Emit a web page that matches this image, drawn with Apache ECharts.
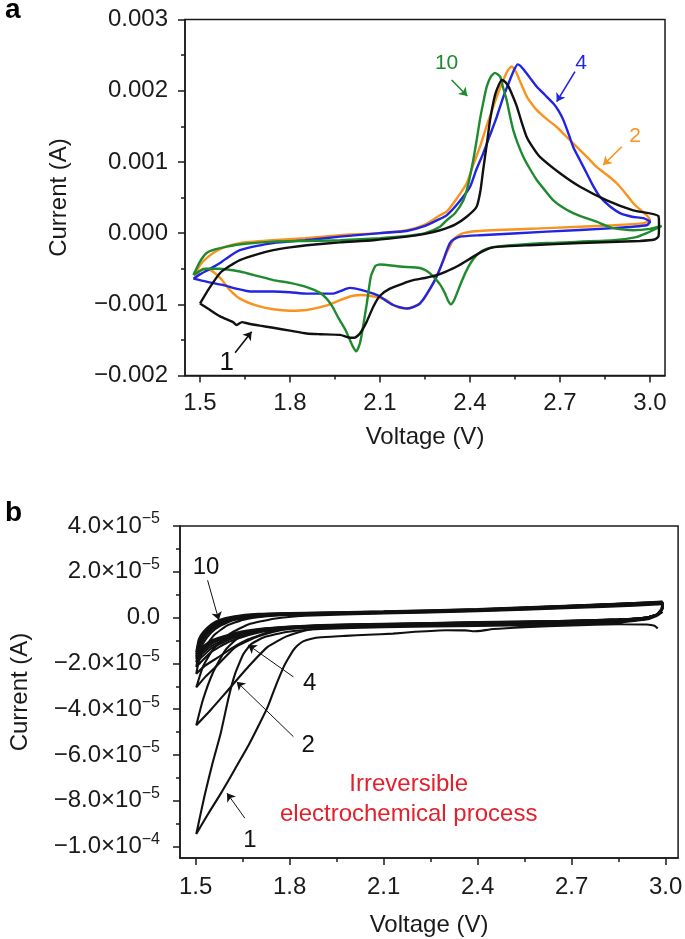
<!DOCTYPE html>
<html>
<head>
<meta charset="utf-8">
<script src="https://cdn.jsdelivr.net/npm/echarts@6/dist/echarts.min.js"></script>
<style>
  html, body { margin: 0; padding: 0; background: #fff; }
  #chart { width: 685px; height: 939px; }
</style>
</head>
<body>
<div id="chart"></div>
<script>
// ---- panel a: CV cycles 1, 2, 4, 10 (V, A) ----
var a1 = [
  [1.5,-0.99e-3],[1.53,-0.78e-3],[1.567,-0.56e-3],[1.6,-0.46e-3],[1.633,-0.38e-3],[1.69,-0.3e-3],[1.744,-0.24e-3],[1.8,-0.2e-3],[1.856,-0.17e-3],[1.967,-0.13e-3],[2.078,-0.1e-3],[2.189,-0.05e-3],[2.25,-0.01e-3],[2.3,0.04e-3],[2.35,0.12e-3],[2.389,0.23e-3],[2.422,0.37e-3],[2.435,0.6e-3],[2.444,0.89e-3],[2.456,1.25e-3],[2.467,1.59e-3],[2.48,1.88e-3],[2.489,2.01e-3],[2.506,2.15e-3],[2.518,2.12e-3],[2.528,2.06e-3],[2.542,1.93e-3],[2.556,1.78e-3],[2.572,1.56e-3],[2.589,1.35e-3],[2.61,1.2e-3],[2.633,1.07e-3],[2.7,0.84e-3],[2.767,0.65e-3],[2.856,0.46e-3],[2.944,0.32e-3],[3.028,0.24e-3],
  [3.03,0.1e-3],[3.028,-0.05e-3],[3.015,-0.09e-3],[2.967,-0.11e-3],[2.767,-0.14e-3],[2.6,-0.17e-3],[2.5,-0.19e-3],[2.467,-0.21e-3],[2.44,-0.26e-3],[2.411,-0.33e-3],[2.356,-0.47e-3],[2.32,-0.54e-3],[2.289,-0.59e-3],[2.25,-0.63e-3],[2.211,-0.66e-3],[2.189,-0.69e-3],[2.133,-0.78e-3],[2.1,-0.88e-3],[2.078,-1.03e-3],[2.055,-1.25e-3],[2.033,-1.41e-3],[2.015,-1.47e-3],[2.0,-1.47e-3],[1.967,-1.43e-3],[1.9,-1.42e-3],[1.856,-1.41e-3],[1.8,-1.37e-3],[1.744,-1.33e-3],[1.7,-1.3e-3],[1.66,-1.27e-3],[1.64,-1.25e-3],[1.622,-1.29e-3],[1.61,-1.25e-3],[1.567,-1.17e-3],[1.53,-1.07e-3],[1.5,-0.99e-3]
];
var a2 = [
  [1.483,-0.59e-3],[1.5,-0.45e-3],[1.52,-0.36e-3],[1.544,-0.28e-3],[1.58,-0.2e-3],[1.633,-0.14e-3],[1.744,-0.1e-3],[1.85,-0.07e-3],[1.967,-0.03e-3],[2.1,0.0],[2.189,0.04e-3],[2.25,0.12e-3],[2.3,0.25e-3],[2.322,0.3e-3],[2.35,0.45e-3],[2.389,0.7e-3],[2.41,0.95e-3],[2.433,1.21e-3],[2.455,1.5e-3],[2.478,1.78e-3],[2.495,1.98e-3],[2.511,2.15e-3],[2.525,2.28e-3],[2.539,2.34e-3],[2.548,2.3e-3],[2.556,2.24e-3],[2.57,2.1e-3],[2.589,1.92e-3],[2.605,1.82e-3],[2.622,1.73e-3],[2.656,1.6e-3],[2.689,1.49e-3],[2.72,1.36e-3],[2.756,1.21e-3],[2.79,1.07e-3],[2.822,0.93e-3],[2.856,0.82e-3],[2.889,0.7e-3],[2.92,0.55e-3],[2.944,0.42e-3],[2.97,0.32e-3],[2.989,0.25e-3],[3.0,0.18e-3],
  [2.98,0.14e-3],[2.878,0.11e-3],[2.656,0.07e-3],[2.433,0.03e-3],[2.378,0.0],[2.355,-0.05e-3],[2.344,-0.1e-3],[2.322,-0.28e-3],[2.305,-0.45e-3],[2.289,-0.61e-3],[2.265,-0.8e-3],[2.244,-0.94e-3],[2.215,-1.03e-3],[2.189,-1.06e-3],[2.165,-1.05e-3],[2.144,-1.01e-3],[2.122,-0.94e-3],[2.1,-0.91e-3],[2.078,-0.89e-3],[2.04,-0.87e-3],[2.011,-0.88e-3],[1.967,-0.94e-3],[1.92,-1.02e-3],[1.856,-1.08e-3],[1.8,-1.09e-3],[1.744,-1.07e-3],[1.69,-1.02e-3],[1.633,-0.92e-3],[1.6,-0.8e-3],[1.567,-0.63e-3],[1.535,-0.52e-3],[1.51,-0.5e-3],[1.495,-0.55e-3],[1.483,-0.59e-3]
];
var a4 = [
  [1.478,-0.64e-3],[1.5,-0.58e-3],[1.53,-0.51e-3],[1.567,-0.42e-3],[1.6,-0.32e-3],[1.633,-0.24e-3],[1.69,-0.18e-3],[1.744,-0.14e-3],[1.85,-0.1e-3],[1.967,-0.05e-3],[2.1,0.0],[2.189,0.03e-3],[2.25,0.1e-3],[2.3,0.2e-3],[2.322,0.25e-3],[2.36,0.42e-3],[2.4,0.65e-3],[2.42,0.88e-3],[2.444,1.12e-3],[2.467,1.38e-3],[2.489,1.63e-3],[2.51,1.9e-3],[2.533,2.15e-3],[2.548,2.3e-3],[2.559,2.37e-3],[2.568,2.35e-3],[2.578,2.3e-3],[2.6,2.18e-3],[2.622,2.06e-3],[2.65,1.94e-3],[2.678,1.82e-3],[2.695,1.72e-3],[2.711,1.59e-3],[2.728,1.4e-3],[2.744,1.21e-3],[2.767,1.02e-3],[2.789,0.84e-3],[2.811,0.66e-3],[2.833,0.51e-3],[2.865,0.38e-3],[2.9,0.28e-3],[2.94,0.23e-3],[2.978,0.21e-3],[3.0,0.16e-3],
  [2.989,0.11e-3],[2.878,0.07e-3],[2.656,0.02e-3],[2.433,-0.03e-3],[2.367,-0.05e-3],[2.345,-0.09e-3],[2.333,-0.14e-3],[2.322,-0.25e-3],[2.311,-0.38e-3],[2.295,-0.55e-3],[2.278,-0.7e-3],[2.255,-0.86e-3],[2.233,-0.99e-3],[2.21,-1.04e-3],[2.189,-1.06e-3],[2.165,-1.04e-3],[2.144,-1.01e-3],[2.12,-0.95e-3],[2.1,-0.89e-3],[2.078,-0.85e-3],[2.04,-0.8e-3],[2.0,-0.77e-3],[1.989,-0.78e-3],[1.965,-0.82e-3],[1.944,-0.85e-3],[1.9,-0.85e-3],[1.856,-0.85e-3],[1.8,-0.83e-3],[1.744,-0.82e-3],[1.7,-0.82e-3],[1.667,-0.82e-3],[1.62,-0.78e-3],[1.578,-0.73e-3],[1.54,-0.7e-3],[1.5,-0.66e-3],[1.478,-0.64e-3]
];
var a10 = [
  [1.478,-0.59e-3],[1.5,-0.4e-3],[1.522,-0.28e-3],[1.55,-0.23e-3],[1.589,-0.19e-3],[1.65,-0.15e-3],[1.744,-0.12e-3],[1.85,-0.11e-3],[1.967,-0.1e-3],[2.1,-0.07e-3],[2.189,-0.04e-3],[2.25,0.0],[2.3,0.09e-3],[2.322,0.18e-3],[2.35,0.28e-3],[2.378,0.46e-3],[2.395,0.7e-3],[2.411,1.03e-3],[2.422,1.3e-3],[2.433,1.59e-3],[2.445,1.85e-3],[2.456,2.06e-3],[2.47,2.2e-3],[2.483,2.25e-3],[2.5,2.2e-3],[2.51,2.05e-3],[2.522,1.87e-3],[2.533,1.65e-3],[2.544,1.45e-3],[2.56,1.25e-3],[2.578,1.07e-3],[2.6,0.9e-3],[2.622,0.75e-3],[2.65,0.6e-3],[2.678,0.46e-3],[2.71,0.36e-3],[2.744,0.28e-3],[2.78,0.22e-3],[2.822,0.16e-3],[2.85,0.11e-3],[2.878,0.07e-3],[2.944,0.04e-3],[3.0,0.06e-3],[3.039,0.1e-3],
  [2.989,0.0],[2.95,-0.06e-3],[2.878,-0.1e-3],[2.656,-0.14e-3],[2.489,-0.19e-3],[2.455,-0.22e-3],[2.433,-0.27e-3],[2.41,-0.37e-3],[2.389,-0.52e-3],[2.37,-0.7e-3],[2.356,-0.85e-3],[2.345,-0.96e-3],[2.336,-1.0e-3],[2.327,-0.95e-3],[2.317,-0.85e-3],[2.3,-0.72e-3],[2.278,-0.61e-3],[2.255,-0.53e-3],[2.233,-0.49e-3],[2.167,-0.47e-3],[2.1,-0.44e-3],[2.085,-0.46e-3],[2.07,-0.6e-3],[2.056,-0.99e-3],[2.04,-1.4e-3],[2.033,-1.55e-3],[2.021,-1.66e-3],[2.008,-1.58e-3],[1.985,-1.36e-3],[1.96,-1.18e-3],[1.941,-1.03e-3],[1.922,-0.92e-3],[1.9,-0.84e-3],[1.856,-0.76e-3],[1.8,-0.7e-3],[1.744,-0.66e-3],[1.69,-0.6e-3],[1.633,-0.54e-3],[1.563,-0.5e-3],[1.52,-0.5e-3],[1.5,-0.53e-3],[1.478,-0.59e-3]
];

// ---- panel b: CV cycles 1..10 (V, A) ----
var b1 = [
  [2.975,-0.48e-5],[2.965,-0.36e-5],[2.94,-0.3e-5],[2.85,-0.29e-5],[2.7,-0.34e-5],[2.55,-0.42e-5],[2.45,-0.5e-5],[2.41,-0.58e-5],[2.39,-0.6e-5],[2.36,-0.56e-5],[2.3,-0.55e-5],[2.2,-0.62e-5],[2.13,-0.7e-5],[2.05,-0.75e-5],[1.978,-0.8e-5],[1.9,-0.86e-5],[1.87,-0.92e-5],[1.843,-1.04e-5],[1.825,-1.22e-5],[1.812,-1.42e-5],[1.795,-1.8e-5],[1.781,-2.15e-5],[1.755,-3.0e-5],[1.73,-3.9e-5],[1.699,-4.77e-5],[1.668,-5.6e-5],[1.626,-6.6e-5],[1.584,-7.6e-5],[1.543,-8.5e-5],[1.502,-9.45e-5],
  [1.528,-7.8e-5],[1.554,-6.35e-5],[1.58,-5.05e-5],[1.605,-3.5e-5],[1.626,-2.45e-5],[1.652,-1.6e-5],[1.678,-1.15e-5],[1.72,-0.85e-5],[1.79,-0.63e-5],[1.9,-0.5e-5],[2.1,-0.42e-5],[2.4,-0.36e-5],[2.7,-0.3e-5],[2.85,-0.22e-5],[2.95,-0.05e-5],[2.99,0.25e-5]
];
var b2 = [
  [2.99,0.25e-5],[2.97,0.06e-5],[2.93,-0.08e-5],[2.8,-0.16e-5],[2.66,-0.22e-5],[2.4,-0.3e-5],[2.1,-0.38e-5],[1.9,-0.45e-5],[1.85,-0.56e-5],[1.79,-0.82e-5],[1.73,-1.28e-5],[1.668,-2.15e-5],[1.595,-3.3e-5],[1.55,-4.0e-5],[1.502,-4.7e-5],
  [1.523,-3.6e-5],[1.554,-2.44e-5],[1.595,-1.42e-5],[1.647,-0.75e-5],[1.7,-0.55e-5],[1.8,-0.42e-5],[2.1,-0.35e-5],[2.4,-0.3e-5],[2.7,-0.24e-5],[2.9,-0.12e-5],[2.97,0.1e-5],[2.99,0.35e-5]
];
var b3 = [
  [2.99,0.35e-5],[2.97,0.1e-5],[2.93,-0.05e-5],[2.8,-0.14e-5],[2.66,-0.2e-5],[2.4,-0.27e-5],[2.1,-0.34e-5],[1.9,-0.42e-5],[1.8,-0.5e-5],[1.75,-0.62e-5],[1.688,-0.88e-5],[1.626,-1.3e-5],[1.564,-2.15e-5],[1.53,-2.6e-5],[1.502,-3.05e-5],
  [1.523,-2.15e-5],[1.554,-1.42e-5],[1.61,-0.7e-5],[1.668,-0.3e-5],[1.75,-0.05e-5],[1.85,0.08e-5],[2.1,0.18e-5],[2.4,0.28e-5],[2.7,0.42e-5],[2.9,0.52e-5],[2.99,0.58e-5]
];
var b4 = [
  [2.99,0.58e-5],[2.985,0.35e-5],[2.97,0.12e-5],[2.94,-0.02e-5],[2.85,-0.12e-5],[2.66,-0.19e-5],[2.4,-0.26e-5],[2.1,-0.33e-5],[1.9,-0.4e-5],[1.8,-0.48e-5],[1.74,-0.6e-5],[1.668,-0.95e-5],[1.62,-1.3e-5],[1.57,-1.75e-5],[1.53,-2.1e-5],[1.502,-2.45e-5],
  [1.51,-1.9e-5],[1.53,-1.3e-5],[1.56,-0.75e-5],[1.6,-0.35e-5],[1.65,-0.1e-5],[1.72,0.05e-5],[1.8,0.12e-5],[2.1,0.2e-5],[2.4,0.3e-5],[2.7,0.44e-5],[2.9,0.55e-5],[2.99,0.62e-5]
];
var b5 = [
  [2.99,0.62e-5],[2.99,0.4e-5],[2.975,0.15e-5],[2.94,0.0],[2.85,-0.1e-5],[2.66,-0.18e-5],[2.4,-0.25e-5],[2.1,-0.32e-5],[1.9,-0.38e-5],[1.8,-0.45e-5],[1.72,-0.6e-5],[1.65,-0.85e-5],[1.6,-1.1e-5],[1.55,-1.5e-5],[1.502,-2.15e-5],
  [1.51,-1.6e-5],[1.525,-1.1e-5],[1.55,-0.65e-5],[1.58,-0.35e-5],[1.62,-0.12e-5],[1.7,0.05e-5],[1.8,0.13e-5],[2.1,0.21e-5],[2.4,0.31e-5],[2.7,0.46e-5],[2.9,0.57e-5],[2.99,0.64e-5]
];
var b6 = [
  [2.99,0.64e-5],[2.99,0.4e-5],[2.975,0.15e-5],[2.94,0.0],[2.85,-0.1e-5],[2.66,-0.17e-5],[2.4,-0.24e-5],[2.1,-0.31e-5],[1.9,-0.37e-5],[1.8,-0.43e-5],[1.72,-0.56e-5],[1.65,-0.78e-5],[1.6,-1.0e-5],[1.55,-1.35e-5],[1.502,-1.95e-5],
  [1.51,-1.4e-5],[1.525,-0.95e-5],[1.55,-0.55e-5],[1.58,-0.28e-5],[1.62,-0.08e-5],[1.7,0.08e-5],[1.8,0.15e-5],[2.1,0.23e-5],[2.4,0.33e-5],[2.7,0.48e-5],[2.9,0.59e-5],[2.99,0.66e-5]
];
var b7 = [
  [2.99,0.66e-5],[2.99,0.4e-5],[2.975,0.15e-5],[2.94,0.0],[2.85,-0.09e-5],[2.66,-0.16e-5],[2.4,-0.23e-5],[2.1,-0.3e-5],[1.9,-0.36e-5],[1.8,-0.42e-5],[1.72,-0.53e-5],[1.65,-0.72e-5],[1.6,-0.93e-5],[1.55,-1.25e-5],[1.502,-1.8e-5],
  [1.51,-1.25e-5],[1.525,-0.85e-5],[1.55,-0.48e-5],[1.58,-0.22e-5],[1.62,-0.04e-5],[1.7,0.1e-5],[1.8,0.16e-5],[2.1,0.24e-5],[2.4,0.34e-5],[2.7,0.5e-5],[2.9,0.61e-5],[2.99,0.67e-5]
];
var b8 = [
  [2.99,0.67e-5],[2.99,0.4e-5],[2.975,0.15e-5],[2.94,0.0],[2.85,-0.09e-5],[2.66,-0.16e-5],[2.4,-0.22e-5],[2.1,-0.29e-5],[1.9,-0.35e-5],[1.8,-0.41e-5],[1.72,-0.51e-5],[1.65,-0.68e-5],[1.6,-0.87e-5],[1.55,-1.15e-5],[1.502,-1.7e-5],
  [1.51,-1.15e-5],[1.525,-0.78e-5],[1.55,-0.42e-5],[1.58,-0.18e-5],[1.62,-0.01e-5],[1.7,0.12e-5],[1.8,0.18e-5],[2.1,0.25e-5],[2.4,0.35e-5],[2.7,0.51e-5],[2.9,0.62e-5],[2.99,0.68e-5]
];
var b9 = [
  [2.99,0.68e-5],[2.99,0.4e-5],[2.975,0.15e-5],[2.94,0.0],[2.85,-0.08e-5],[2.66,-0.15e-5],[2.4,-0.21e-5],[2.1,-0.28e-5],[1.9,-0.34e-5],[1.8,-0.4e-5],[1.72,-0.49e-5],[1.65,-0.64e-5],[1.6,-0.82e-5],[1.55,-1.07e-5],[1.502,-1.6e-5],
  [1.51,-1.05e-5],[1.525,-0.7e-5],[1.55,-0.36e-5],[1.58,-0.13e-5],[1.62,0.02e-5],[1.7,0.14e-5],[1.8,0.19e-5],[2.1,0.26e-5],[2.4,0.36e-5],[2.7,0.52e-5],[2.9,0.63e-5],[2.99,0.69e-5]
];
var b10 = [
  [2.99,0.69e-5],[2.99,0.4e-5],[2.975,0.15e-5],[2.94,0.0],[2.85,-0.08e-5],[2.66,-0.15e-5],[2.4,-0.2e-5],[2.1,-0.27e-5],[1.9,-0.33e-5],[1.8,-0.39e-5],[1.72,-0.47e-5],[1.65,-0.6e-5],[1.6,-0.77e-5],[1.55,-1.0e-5],[1.502,-1.5e-5],
  [1.51,-0.95e-5],[1.525,-0.62e-5],[1.55,-0.3e-5],[1.575,-0.1e-5],[1.62,0.05e-5],[1.7,0.16e-5],[1.8,0.2e-5],[2.1,0.27e-5],[2.4,0.37e-5],[2.7,0.53e-5],[2.9,0.64e-5],[2.99,0.7e-5]
];

// ---- ticks ----
var xMajor = [1.5, 1.8, 2.1, 2.4, 2.7, 3.0];
var xMinor = [1.65, 1.95, 2.25, 2.55, 2.85];
var yBMajor = [4e-5, 2e-5, 0, -2e-5, -4e-5, -6e-5, -8e-5, -1e-4];
var yBMinor = [3e-5, 1e-5, -1e-5, -3e-5, -5e-5, -7e-5, -9e-5];

// ---- annotations: cycle label, text position, arrow start, arrow end ----
var annA = [
  { name: '10', text: [2.322, 2.385e-3], from: [2.339, 2.15e-3], to: [2.391, 1.926e-3] },
  { name: '4',  text: [2.77, 2.393e-3],  from: [2.75, 2.267e-3], to: [2.689, 1.846e-3] },
  { name: '2',  text: [2.95, 1.354e-3],  from: [2.906, 1.213e-3], to: [2.844, 0.957e-3] },
  { name: '1',  text: [1.589, -1.829e-3], from: [1.617, -1.68e-3], to: [1.672, -1.385e-3] }
];
var annB = [
  { name: '10', text: [1.533, 2.21e-5],  from: [1.538, 1.63e-5],  to: [1.574, -0.11e-5] },
  { name: '4',  text: [1.864, -2.87e-5], from: [1.812, -2.59e-5], to: [1.668, -1.2e-5] },
  { name: '2',  text: [1.859, -5.56e-5], from: [1.812, -5.2e-5],  to: [1.631, -2.8e-5] },
  { name: '1',  text: [1.673, -9.71e-5], from: [1.657, -8.76e-5], to: [1.6, -7.67e-5] }
];
var noteB = { text: 'Irreversible\nelectrochemical process', pos: [2.18, -7.96e-5] };

var FONT = 'Liberation Sans';
var INK = '#1a1a1a';
var cGreen = '#1f8a2e', cOrange = '#f7931e', cBlue = '#2124e0', cBlack = '#111111';

function arrow(a, color, width) {
  return {
    silent: true, symbol: ['none', 'arrow'], symbolSize: 8,
    label: { show: false },
    lineStyle: { color: color, width: width, type: 'solid' },
    data: [[{ coord: a.from }, { coord: a.to }]]
  };
}
function tag(a, color, size) {
  return {
    silent: true, symbol: 'circle', symbolSize: 1,
    itemStyle: { color: 'rgba(0,0,0,0)' },
    label: { show: true, position: 'inside', formatter: a.name, color: color, fontSize: size, fontFamily: FONT },
    data: [{ coord: a.text }]
  };
}

function lineA(name, data, color, ann, annSize) {
  var s = {
    name: name, type: 'line', xAxisIndex: 0, yAxisIndex: 0, data: data,
    showSymbol: false, smooth: 0.2, lineStyle: { color: color, width: 2.4 }, z: 3
  };
  if (ann) { s.markLine = arrow(ann, color, 1.6); s.markPoint = tag(ann, color, annSize); }
  return s;
}
function lineB(name, data, ann) {
  var s = {
    name: name, type: 'line', xAxisIndex: 2, yAxisIndex: 2, data: data,
    showSymbol: false, smooth: 0.15, lineStyle: { color: cBlack, width: 2.1 }, z: 3
  };
  if (ann) { s.markLine = arrow(ann, cBlack, 1); s.markPoint = tag(ann, cBlack, 24); }
  return s;
}

function fmtA(v) {
  if (Math.abs(v) < 1e-9) return '0.000';
  return (v < 0 ? '\u2212' : '') + Math.abs(v).toFixed(3);
}
function fmtB(v) {
  if (Math.abs(v) < 1e-12) return '{m|0.0}';
  var e = Math.floor(Math.log10(Math.abs(v)) + 1e-9);
  var m = v / Math.pow(10, e);
  return '{m|' + (m < 0 ? '\u2212' : '') + Math.abs(m).toFixed(1) + '\u00d710}{s|\u2212' + Math.abs(e) + '}';
}

var axisLineStyle = { color: INK, width: 1.5 };
var nameStyle = { fontSize: 24, color: INK, fontFamily: FONT };

var gridA = { left: 185, top: 19.5, width: 480, height: 356 };
var gridB = { left: 170, top: 526, width: 513, height: 332 };

var seriesB = [
  lineB('1', b1, annB[3]), lineB('2', b2, annB[2]), lineB('3', b3), lineB('4', b4, annB[1]),
  lineB('5', b5), lineB('6', b6), lineB('7', b7), lineB('8', b8), lineB('9', b9), lineB('10', b10, annB[0])
];
seriesB[1].markPoint = {
  silent: true, symbol: 'circle', symbolSize: 1, itemStyle: { color: 'rgba(0,0,0,0)' },
  data: [
    { coord: annB[2].text, label: { show: true, position: 'inside', formatter: annB[2].name, color: cBlack, fontSize: 24, fontFamily: FONT } },
    { coord: noteB.pos, label: { show: true, position: 'inside', formatter: noteB.text, color: '#e3202b', fontSize: 24, lineHeight: 30, align: 'center', fontFamily: FONT } }
  ]
};

var option = {
  animation: false,
  backgroundColor: '#ffffff',
  textStyle: { fontFamily: FONT },
  title: [
    { text: 'a', left: 0, top: -9, textStyle: { fontSize: 28, fontWeight: 'bold', color: '#000', fontFamily: FONT } },
    { text: 'b', left: 0, top: 494, textStyle: { fontSize: 28, fontWeight: 'bold', color: '#000', fontFamily: FONT } }
  ],
  grid: [
    Object.assign({ show: true, borderColor: INK, borderWidth: 1.5, backgroundColor: 'rgba(0,0,0,0)' }, gridA),
    Object.assign({ show: true, borderColor: INK, borderWidth: 1.5, backgroundColor: 'rgba(0,0,0,0)' }, gridB)
  ],
  xAxis: [
    {
      gridIndex: 0, type: 'value', position: 'bottom', min: 1.45, max: 3.05,
      axisLine: { show: true, onZero: false, lineStyle: axisLineStyle },
      axisTick: { show: true, customValues: xMajor, length: 7, lineStyle: axisLineStyle },
      axisLabel: { customValues: xMajor, margin: 16, fontSize: 24, color: INK, formatter: function (v) { return v.toFixed(1); } },
      splitLine: { show: false },
      name: 'Voltage (V)', nameLocation: 'middle', nameGap: 50, nameTextStyle: nameStyle
    },
    {
      gridIndex: 0, type: 'value', position: 'bottom', min: 1.45, max: 3.05,
      axisLine: { show: false, onZero: false },
      axisTick: { show: true, customValues: xMinor, length: 4, lineStyle: axisLineStyle },
      axisLabel: { show: false }, splitLine: { show: false }
    },
    {
      gridIndex: 1, type: 'value', position: 'bottom', min: 1.45, max: 3.04,
      axisLine: { show: true, onZero: false, lineStyle: axisLineStyle },
      axisTick: { show: true, customValues: xMajor, length: 7, lineStyle: axisLineStyle },
      axisLabel: { customValues: xMajor, margin: 17, fontSize: 24, color: INK, formatter: function (v) { return v.toFixed(1); } },
      splitLine: { show: false },
      name: 'Voltage (V)', nameLocation: 'middle', nameGap: 55, nameTextStyle: nameStyle
    },
    {
      gridIndex: 1, type: 'value', position: 'bottom', min: 1.45, max: 3.04,
      axisLine: { show: false, onZero: false },
      axisTick: { show: true, customValues: xMinor, length: 4, lineStyle: axisLineStyle },
      axisLabel: { show: false }, splitLine: { show: false }
    }
  ],
  yAxis: [
    {
      gridIndex: 0, type: 'value', position: 'left', min: -0.002, max: 0.003, interval: 0.001,
      axisLine: { show: true, onZero: false, lineStyle: axisLineStyle },
      axisTick: { show: true, length: 7, lineStyle: axisLineStyle },
      minorTick: { show: true, splitNumber: 2, length: 4, lineStyle: axisLineStyle },
      axisLabel: { margin: 17, fontSize: 24, color: INK, formatter: fmtA },
      splitLine: { show: false }, minorSplitLine: { show: false },
      name: 'Current (A)', nameLocation: 'middle', nameRotate: 90, nameGap: 114, nameTextStyle: nameStyle
    },
    {
      gridIndex: 0, type: 'value', position: 'left', min: -0.002, max: 0.003,
      show: false
    },
    {
      gridIndex: 1, type: 'value', position: 'left', min: -1.05e-4, max: 4e-5,
      axisLine: { show: true, onZero: false, lineStyle: axisLineStyle },
      axisTick: { show: true, customValues: yBMajor, length: 7, lineStyle: axisLineStyle },
      axisLabel: {
        customValues: yBMajor, margin: 20, color: INK, formatter: fmtB,
        rich: {
          m: { fontSize: 24, color: INK, fontFamily: FONT, lineHeight: 30 },
          s: { fontSize: 16, color: INK, fontFamily: FONT, verticalAlign: 'top' }
        }
      },
      splitLine: { show: false },
      name: 'Current (A)', nameLocation: 'middle', nameRotate: 90, nameGap: 148, nameTextStyle: nameStyle
    },
    {
      gridIndex: 1, type: 'value', position: 'left', min: -1.05e-4, max: 4e-5,
      axisLine: { show: false, onZero: false },
      axisTick: { show: true, customValues: yBMinor, length: 4, lineStyle: axisLineStyle },
      axisLabel: { show: false }, splitLine: { show: false }
    }
  ],
  series: [
    lineA('2', a2, cOrange, annA[2], 21),
    lineA('4', a4, cBlue, annA[1], 21),
    lineA('10', a10, cGreen, annA[0], 21),
    lineA('1', a1, cBlack, annA[3], 26)
  ].concat(seriesB)
};

var chart = echarts.init(document.getElementById('chart'), null, { renderer: 'canvas' });
chart.setOption(option);
</script>
</body>
</html>
